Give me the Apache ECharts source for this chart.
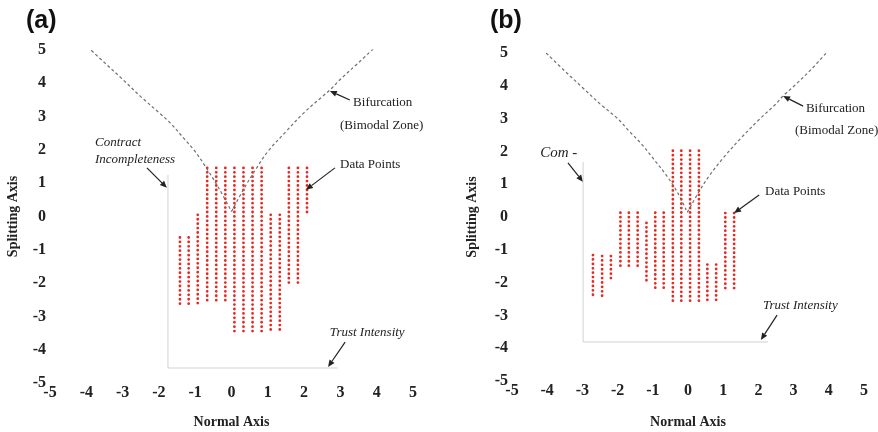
<!DOCTYPE html>
<html><head><meta charset="utf-8">
<script src="https://cdn.jsdelivr.net/npm/echarts@6/dist/echarts.min.js"></script>
<style>html,body{margin:0;padding:0;background:#fff}#c{width:878px;height:432px}</style>
</head><body><div id="c"></div>
<script>
// ---------- Panel (a) data ----------
const colXA      = [-1.42,-1.18,-0.93,-0.67,-0.42,-0.17,0.08,0.33,0.58,0.83,1.08,1.33,1.58,1.83,2.08];
const colTopA    = [-0.63,-0.63,0.05,1.46,1.46,1.46,1.46,1.46,1.46,1.46,0.05,0.05,1.46,1.46,1.46];
const colBottomA = [-2.61,-2.61,-2.61,-2.61,-2.61,-2.61,-3.51,-3.51,-3.51,-3.51,-3.51,-3.51,-1.97,-1.97,0.10];
const curveLeftA  = [[-3.97,5.1],[-3.5,4.62],[-3,4.12],[-2.5,3.6],[-2,3.12],[-1.68,2.8],[-1.3,2.33],[-1,1.95],[-0.67,1.42],[-0.35,0.85],[0,0.15]];
const curveRightA = [[0,0.15],[0.35,0.85],[0.67,1.42],[1,1.95],[1.5,2.55],[2,3.12],[2.5,3.6],[2.73,3.82],[3,4.12],[3.5,4.62],[3.97,5.1]];
const frameA = [[-1.75,1.25],[-1.75,-4.55],[2.93,-4.55]];
const arrowsA = [[-2.33,1.46,-1.78,0.86],[3.26,3.50,2.71,3.77],[2.85,1.46,2.05,0.80],[3.13,-3.77,2.66,-4.52]];
const textsA = ['Contract','Incompleteness','Bifurcation','(Bimodal Zone)','Data Points','Trust Intensity'];
const textPosA = [[-3.76,2.21],[-3.76,1.70],[3.35,3.41],[2.99,2.72],[2.99,1.55],[2.71,-3.50]];

// ---------- Panel (b) data ----------
const colXB      = [-2.70,-2.44,-2.19,-1.92,-1.68,-1.43,-1.18,-0.93,-0.69,-0.43,-0.19,0.06,0.31,0.55,0.80,1.06,1.31];
const colTopB    = [-1.16,-1.19,-1.19,0.13,0.13,0.13,-0.18,0.13,0.13,2.02,2.02,2.02,2.02,-1.45,-1.45,0.12,0.12];
const colBottomB = [-2.47,-2.48,-1.86,-1.52,-1.52,-1.52,-2.01,-2.16,-2.16,-2.65,-2.65,-2.65,-2.65,-2.62,-2.62,-2.16,-2.16];
const curveLeftB  = [[-4.03,5.0],[-3.5,4.45],[-3,3.95],[-2.5,3.45],[-2,3.0],[-1.7,2.65],[-1.3,2.2],[-1,1.8],[-0.6,1.25],[-0.3,0.75],[-0.02,0.14]];
const curveRightB = [[-0.02,0.14],[0.3,0.75],[0.6,1.25],[1,1.8],[1.5,2.4],[2,2.95],[2.5,3.45],[2.7,3.69],[3,3.98],[3.5,4.5],[3.95,5.03]];
const frameB = [[-2.98,1.68],[-2.98,-3.81],[2.28,-3.81]];
const arrowsB = [[-3.41,1.65,-2.98,1.07],[3.27,3.38,2.70,3.69],[2.02,0.67,1.31,0.12],[2.53,-2.99,2.07,-3.75]];
const textsB = ['Com -','Bifurcation','(Bimodal Zone)','Data Points','Trust Intensity'];
const textPosB = [[-4.20,1.95],[3.35,3.32],[3.04,2.65],[2.19,0.76],[2.13,-2.71]];

// ---------- styles ----------
const italicA = [true,true,false,false,false,true];
const italicB = [true,false,false,false,true];
const fontSizeB = [15,13,13,13,13];

const SERIF = '"Liberation Serif","Times New Roman",serif';
const tickLabel = {fontFamily:SERIF,fontWeight:'bold',fontSize:16,color:'#222'};
const nameStyle = {fontFamily:SERIF,fontWeight:'bold',fontSize:14,color:'#222'};

function xAxis(idx, gap){
  return {type:'value',gridIndex:idx,min:-5,max:5,interval:1,
    axisLine:{show:false},axisTick:{show:false},splitLine:{show:false},
    axisLabel:Object.assign({margin:2},tickLabel),
    name:'Normal Axis',nameLocation:'middle',nameGap:gap,nameTextStyle:nameStyle};
}
function yAxis(idx, gap){
  return {type:'value',gridIndex:idx,min:-5,max:5,interval:1,
    axisLine:{show:false},axisTick:{show:false},splitLine:{show:false},
    axisLabel:Object.assign({margin:4},tickLabel),
    name:'Splitting Axis',nameLocation:'middle',nameGap:gap,nameRotate:90,nameTextStyle:nameStyle};
}

function columnsSeries(idx, xs, tops, bots){
  return {type:'custom',xAxisIndex:idx,yAxisIndex:idx,silent:true,
    data: xs.map((x,i)=>[x,tops[i],bots[i]]),
    renderItem:(params,api)=>{
      const p1 = api.coord([api.value(0),api.value(1)]);
      const p2 = api.coord([api.value(0),api.value(2)]);
      return {type:'line',shape:{x1:p1[0],y1:p1[1],x2:p2[0],y2:p2[1]+0.5},
        style:{stroke:'#e62a22',lineWidth:2.8,lineDash:[0.01,4.4],lineCap:'round',fill:null}};
    }};
}
function curveSeries(idx, pts){
  return {type:'line',xAxisIndex:idx,yAxisIndex:idx,data:pts,symbol:'none',silent:true,smooth:0.35,
    lineStyle:{color:'#707070',width:1.2,type:[3,2.5]}};
}
function frameSeries(idx, pts){
  return {type:'line',xAxisIndex:idx,yAxisIndex:idx,data:pts,symbol:'none',silent:true,
    lineStyle:{color:'#d2d2d2',width:1}};
}
function arrowSeries(idx, arr){
  return {type:'custom',xAxisIndex:idx,yAxisIndex:idx,silent:true,data:arr,
    renderItem:(params,api)=>{
      const a = api.coord([api.value(0),api.value(1)]);
      const b = api.coord([api.value(2),api.value(3)]);
      const dx=b[0]-a[0], dy=b[1]-a[1], L=Math.hypot(dx,dy), ux=dx/L, uy=dy/L;
      const hl=7, hw=3;
      const bx=b[0]-ux*hl, by=b[1]-uy*hl;
      return {type:'group',children:[
        {type:'line',shape:{x1:a[0],y1:a[1],x2:bx,y2:by},style:{stroke:'#222',lineWidth:1.2}},
        {type:'polygon',shape:{points:[[b[0],b[1]],[bx-uy*hw,by+ux*hw],[bx+uy*hw,by-ux*hw]]},style:{fill:'#222'}}
      ]};
    }};
}
function textSeries(idx, texts, pos, italics, sizes){
  return {type:'custom',xAxisIndex:idx,yAxisIndex:idx,silent:true,
    data: pos.map((p,i)=>[p[0],p[1],i]),
    renderItem:(params,api)=>{
      const i = api.value(2);
      const p = api.coord([api.value(0),api.value(1)]);
      const fs = sizes ? sizes[i] : 13;
      return {type:'text',x:p[0],y:p[1],style:{text:texts[i],fill:'#222',
        font:(italics[i]?'italic ':'')+fs+'px '+SERIF,align:'left',verticalAlign:'middle'}};
    }};
}

const chart = echarts.init(document.getElementById('c'),null,{renderer:'canvas'});
chart.setOption({
  animation:false,
  backgroundColor:'#fff',
  title:[
    {text:'(a)',left:21,top:4,textStyle:{fontFamily:'"Liberation Sans",Arial,sans-serif',fontWeight:'bold',fontSize:25,color:'#111'}},
    {text:'(b)',left:485,top:4,textStyle:{fontFamily:'"Liberation Sans",Arial,sans-serif',fontWeight:'bold',fontSize:25,color:'#111'}}
  ],
  grid:[
    {left:50,top:50,width:363,height:333,containLabel:false,outerBoundsMode:'none'},
    {left:512,top:53,width:352,height:328,containLabel:false,outerBoundsMode:'none'}
  ],
  xAxis:[xAxis(0,32),xAxis(1,34)],
  yAxis:[yAxis(0,30),yAxis(1,33)],
  series:[
    frameSeries(0,frameA), curveSeries(0,curveLeftA), curveSeries(0,curveRightA), columnsSeries(0,colXA,colTopA,colBottomA),
    arrowSeries(0,arrowsA), textSeries(0,textsA,textPosA,italicA,null),
    frameSeries(1,frameB), curveSeries(1,curveLeftB), curveSeries(1,curveRightB), columnsSeries(1,colXB,colTopB,colBottomB),
    arrowSeries(1,arrowsB), textSeries(1,textsB,textPosB,italicB,fontSizeB)
  ]
});
</script></body></html>
